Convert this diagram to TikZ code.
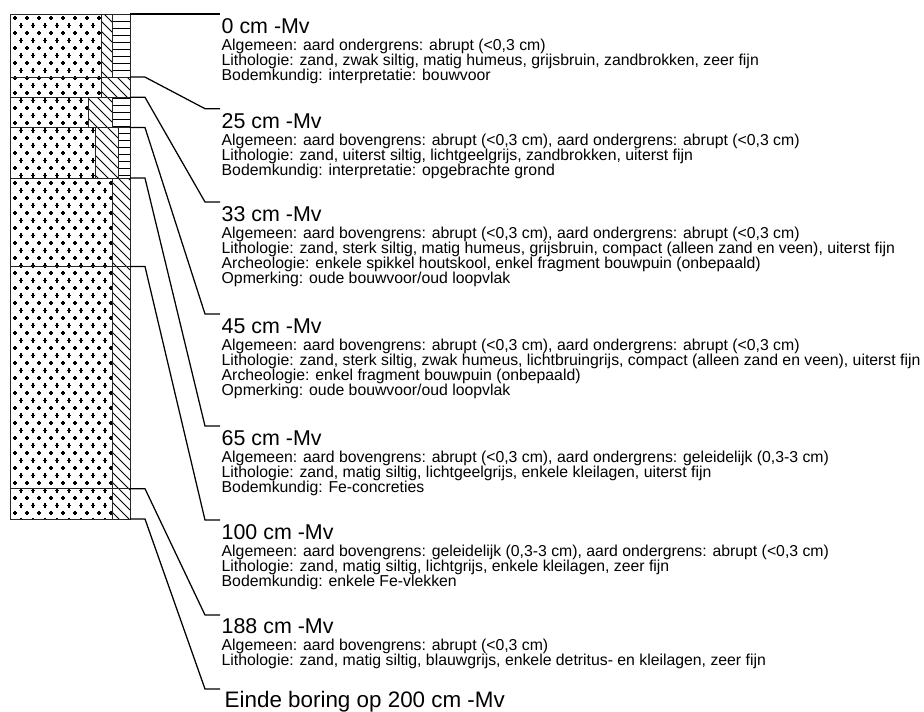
\documentclass[tikz,border=0pt]{standalone}
\usepackage{fontspec}
\setmainfont{Liberation Sans}
\newcommand\crossfill[4]{%
  \begin{scope}
    \clip (#1,#2) rectangle (#3,#4);
    \pgfmathtruncatemacro\rA{max(0,floor((#2-18)/7.5)-1)}
    \pgfmathtruncatemacro\rB{ceil((#4-18)/7.5)+1}
    \foreach \r in {\rA,...,\rB}{
      \pgfmathsetmacro\yy{18+7.5*\r}
      \pgfmathsetmacro\xo{mod(\r,2)*6}
      \foreach \c in {0,...,10}{
        \pgfmathsetmacro\xx{15+\xo+12*\c}
        \draw[crossline] (\xx-2.1,\yy) -- (\xx+2.1,\yy) (\xx,\yy-2.1) -- (\xx,\yy+2.1);
      }
    }
  \end{scope}
  \draw[cell] (#1,#2) rectangle (#3,#4);}
\newcommand\diagfill[4]{%
  \begin{scope}
    \clip (#1,#2) rectangle (#3,#4);
    \pgfmathtruncatemacro\kA{floor((#2-#3)/10)-1}
    \pgfmathtruncatemacro\kB{ceil((#4-#1)/10)+1}
    \foreach \k in {\kA,...,\kB}{
      \draw[hatchline] (#1,{#1+10*\k}) -- (#3,{#3+10*\k});
    }
  \end{scope}
  \draw[cell] (#1,#2) rectangle (#3,#4);}
\newcommand\horfill[4]{%
  \begin{scope}
    \clip (#1,#2) rectangle (#3,#4);
    \pgfmathtruncatemacro\kA{floor((#2-14)/7)}
    \pgfmathtruncatemacro\kB{ceil((#4-14)/7)}
    \foreach \k in {\kA,...,\kB}{
      \draw[hatchline] (#1,{14+7*\k}) -- (#3,{14+7*\k});
    }
  \end{scope}
  \draw[cell] (#1,#2) rectangle (#3,#4);}
\begin{document}
\begin{tikzpicture}[x=1pt,y=-1pt,
  hdr/.style={anchor=base west, inner sep=0pt, font=\fontsize{21.4}{21}\selectfont},
  txt/.style={anchor=base west, inner sep=0pt, font=\fontsize{15.8}{15}\selectfont},
  conn/.style={line width=1.25pt, black},
  cell/.style={draw=black!85, line width=0.9pt},
  crossline/.style={line width=1.05pt, black},
  hatchline/.style={line width=0.9pt, black}]
\useasboundingbox (0,0) rectangle (924,712);
% layers: y(d) = 14 + 2.525 d
% layer 1: 0-25
\crossfill{10}{14}{101}{77.1}
\diagfill{101}{14}{112}{77.1}
\horfill{112}{14}{130}{77.1}
% layer 2: 25-33
\crossfill{10}{77.1}{101}{97.3}
\diagfill{101}{77.1}{130}{97.3}
% layer 3: 33-45
\crossfill{10}{97.3}{88}{127.6}
\diagfill{88}{97.3}{112}{127.6}
\horfill{112}{97.3}{130}{127.6}
% layer 4: 45-65
\crossfill{10}{127.6}{95}{178.1}
\diagfill{95}{127.6}{118}{178.1}
\horfill{118}{127.6}{130}{178.1}
% layer 5: 65-100
\crossfill{10}{178.1}{112}{266.5}
\diagfill{112}{178.1}{130}{266.5}
% layer 6: 100-188
\crossfill{10}{266.5}{112}{488.7}
\diagfill{112}{266.5}{130}{488.7}
% layer 7: 188-200
\crossfill{10}{488.7}{112}{519}
\diagfill{112}{488.7}{130}{519}

% connector start points on the column
\coordinate (s0) at (130,14);
\coordinate (s1) at (130,77.1);
\coordinate (s2) at (130,97.3);
\coordinate (s3) at (130,127.6);
\coordinate (s4) at (130,178.1);
\coordinate (s5) at (130,266.5);
\coordinate (s6) at (130,488.7);
\coordinate (s7) at (130,519);
% connector end points
\coordinate (e0) at (220,14);
\coordinate (e1) at (220,108.7);
\coordinate (e2) at (220,202);
\coordinate (e3) at (220,314);
\coordinate (e4) at (220,426);
\coordinate (e5) at (220,520);
\coordinate (e6) at (220,615);
\coordinate (e7) at (220,689);
\foreach \i in {0,...,7}{
  \draw[conn] (s\i) -- ++(15,0) -- ([xshift=-15pt]e\i) -- (e\i);
}

% texts
\node[hdr] (h0) at (221.5,33.5) {0 cm -Mv};
\foreach \t [count=\i] in {{Algemeen: aard ondergrens: abrupt (<0,3 cm)},
  {Lithologie: zand, zwak siltig, matig humeus, grijsbruin, zandbrokken, zeer fijn},
  {Bodemkundig: interpretatie: bouwvoor}}
  \node[txt] (a\i) at (221.5,{33.5+16.5+15*(\i-1)}) {\t};

\node[hdr] (h1) at (221.5,128.5) {25 cm -Mv};
\foreach \t [count=\i] in {{Algemeen: aard bovengrens: abrupt (<0,3 cm), aard ondergrens: abrupt (<0,3 cm)},
  {Lithologie: zand, uiterst siltig, lichtgeelgrijs, zandbrokken, uiterst fijn},
  {Bodemkundig: interpretatie: opgebrachte grond}}
  \node[txt] (b\i) at (221.5,{128.5+16.5+15*(\i-1)}) {\t};

\node[hdr] (h2) at (221.5,221.5) {33 cm -Mv};
\foreach \t [count=\i] in {{Algemeen: aard bovengrens: abrupt (<0,3 cm), aard ondergrens: abrupt (<0,3 cm)},
  {Lithologie: zand, sterk siltig, matig humeus, grijsbruin, compact (alleen zand en veen), uiterst fijn},
  {Archeologie: enkele spikkel houtskool, enkel fragment bouwpuin (onbepaald)},
  {Opmerking: oude bouwvoor/oud loopvlak}}
  \node[txt] (c\i) at (221.5,{221.5+16.5+15*(\i-1)}) {\t};

\node[hdr] (h3) at (221.5,333.5) {45 cm -Mv};
\foreach \t [count=\i] in {{Algemeen: aard bovengrens: abrupt (<0,3 cm), aard ondergrens: abrupt (<0,3 cm)},
  {Lithologie: zand, sterk siltig, zwak humeus, lichtbruingrijs, compact (alleen zand en veen), uiterst fijn},
  {Archeologie: enkel fragment bouwpuin (onbepaald)},
  {Opmerking: oude bouwvoor/oud loopvlak}}
  \node[txt] (d\i) at (221.5,{333.5+16.5+15*(\i-1)}) {\t};

\node[hdr] (h4) at (221.5,445.5) {65 cm -Mv};
\foreach \t [count=\i] in {{Algemeen: aard bovengrens: abrupt (<0,3 cm), aard ondergrens: geleidelijk (0,3-3 cm)},
  {Lithologie: zand, matig siltig, lichtgeelgrijs, enkele kleilagen, uiterst fijn},
  {Bodemkundig: Fe-concreties}}
  \node[txt] (f\i) at (221.5,{445.5+16.5+15*(\i-1)}) {\t};

\node[hdr] (h5) at (221.5,539.5) {100 cm -Mv};
\foreach \t [count=\i] in {{Algemeen: aard bovengrens: geleidelijk (0,3-3 cm), aard ondergrens: abrupt (<0,3 cm)},
  {Lithologie: zand, matig siltig, lichtgrijs, enkele kleilagen, zeer fijn},
  {Bodemkundig: enkele Fe-vlekken}}
  \node[txt] (g\i) at (221.5,{539.5+16.5+15*(\i-1)}) {\t};

\node[hdr] (h6) at (221.5,633.5) {188 cm -Mv};
\foreach \t [count=\i] in {{Algemeen: aard bovengrens: abrupt (<0,3 cm)},
  {Lithologie: zand, matig siltig, blauwgrijs, enkele detritus- en kleilagen, zeer fijn}}
  \node[txt] (k\i) at (221.5,{633.5+16.5+15*(\i-1)}) {\t};

\node[hdr, font=\fontsize{22.4}{22}\selectfont] (h7) at (224.5,707) {Einde boring op 200 cm -Mv};
\end{tikzpicture}
\end{document}
